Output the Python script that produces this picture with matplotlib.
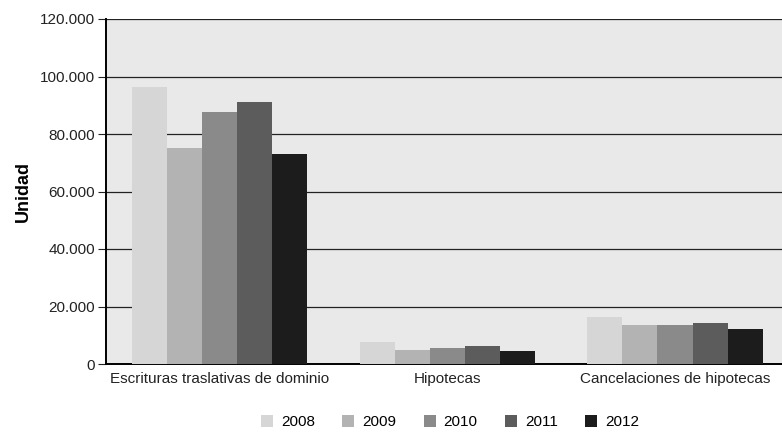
import matplotlib
matplotlib.use("Agg")
import matplotlib.pyplot as plt
import numpy as np
from matplotlib.ticker import FuncFormatter

categories = ["Escrituras traslativas de dominio", "Hipotecas",
              "Cancelaciones de hipotecas"]
years = ["2008", "2009", "2010", "2011", "2012"]
values = {
    "2008": [96300, 7600, 16500],
    "2009": [75100, 4900, 13600],
    "2010": [87700, 5600, 13600],
    "2011": [91100, 6400, 14300],
    "2012": [73000, 4500, 12200],
}
colors = ["#d6d6d6", "#b3b3b3", "#8a8a8a", "#5c5c5c", "#1c1c1c"]

plt.rcParams["font.family"] = ["Liberation Sans Narrow", "Liberation Sans",
                               "DejaVu Sans"]

fig = plt.figure(figsize=(7.82, 4.34), dpi=100)
ax = fig.add_axes([106 / 782, 1 - 364 / 434, 1 - 106 / 782, 345 / 434])
ax.set_facecolor("#e9e9e9")

x = np.arange(len(categories))
width = 0.154
for i, (yr, c) in enumerate(zip(years, colors)):
    ax.bar(x + (i - 2) * width, values[yr], width, color=c, label=yr,
           zorder=3)

ax.set_ylim(0, 120000)
ax.set_xlim(-0.5, 2.47)
ax.set_yticks(np.arange(0, 120001, 20000))
ax.yaxis.set_major_formatter(
    FuncFormatter(lambda v, _: f"{int(v):,}".replace(",", ".")))
ax.grid(axis="y", color="#222222", lw=0.9, zorder=1)
ax.set_xticks(x)
ax.set_xticklabels(categories, fontsize=11, color="#222222")
ax.tick_params(axis="x", length=0, pad=6)
ax.tick_params(axis="y", labelsize=11, colors="#222222", length=6, pad=2)
for s in ["top", "right"]:
    ax.spines[s].set_visible(False)
ax.spines["left"].set_linewidth(1.4)
ax.spines["bottom"].set_linewidth(1.4)
ax.set_ylabel("Unidad", fontsize=13, fontweight="bold", labelpad=6)

fig.legend(loc="center", bbox_to_anchor=(450 / 782, 1 - 422 / 434), ncol=5,
           frameon=False, fontsize=11, handlelength=0.8, handleheight=0.8,
           columnspacing=1.8, handletextpad=0.5)

fig.savefig("out.png", dpi=100)
